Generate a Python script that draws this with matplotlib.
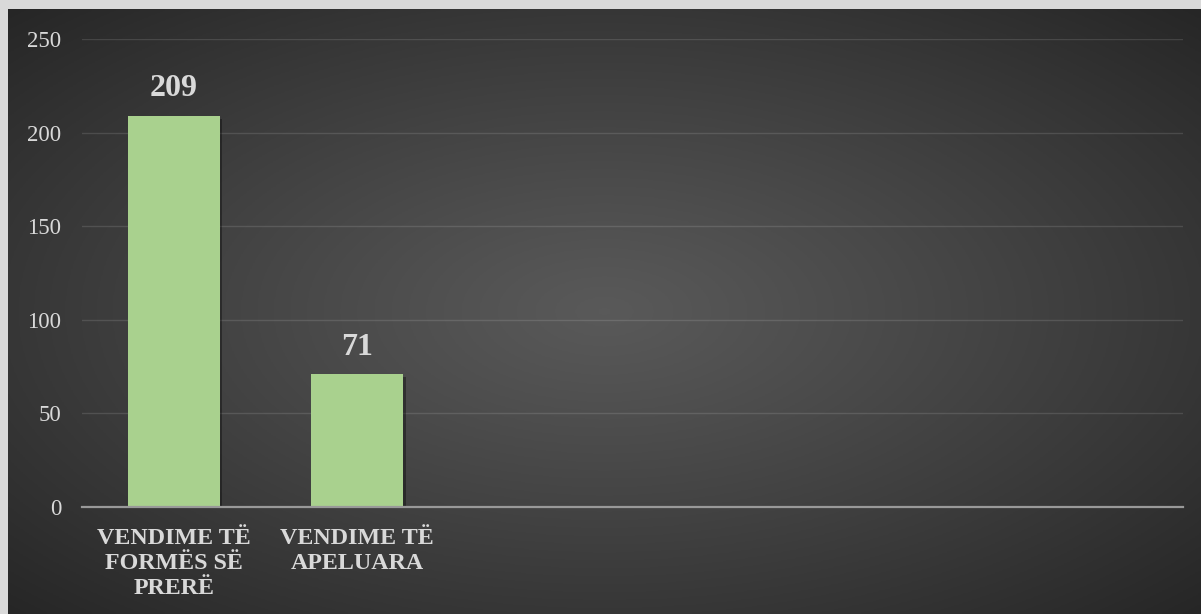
import matplotlib.pyplot as plt
import matplotlib.patheffects as pe
import numpy as np

# data
categories = ["VENDIME TË\nFORMËS SË\nPRERË", "VENDIME TË\nAPELUARA"]
values = [209, 71]
n_slots = 6          # the chart keeps room for six categories
y_ticks = [0, 50, 100, 150, 200, 250]

plt.rcParams['font.family'] = ['Liberation Serif', 'DejaVu Serif']

W, H = 1201, 614
fig = plt.figure(figsize=(W / 100, H / 100), dpi=100, facecolor='#D9D9D9')

# dark radial background panel
bg = fig.add_axes([8 / W, 0, (W - 8) / W, (H - 9) / H])
gx, gy = np.meshgrid(np.linspace(-1, 1, 400), np.linspace(-1, 1, 200))
r = np.clip(np.sqrt(gx ** 2 + gy ** 2) / np.sqrt(2), 0, 1)
shade = 0.35 - (0.35 - 0.15) * r ** 1.1
bg.imshow(np.dstack([shade, shade, shade]), aspect='auto', extent=[0, 1, 0, 1])
bg.axis('off')

ax = fig.add_axes([82 / W, 107 / H, (1183 - 82) / W, (507 - 39) / H])
ax.patch.set_alpha(0)

x = np.arange(len(values))
bars = ax.bar(x, values, width=0.5, color='#A9D18E', zorder=3)
for b in bars:
    b.set_path_effects([pe.SimplePatchShadow(offset=(2, -2), shadow_rgbFace='black', alpha=0.35),
                        pe.Normal()])

for xi, v in zip(x, values):
    ax.annotate(str(v), (xi, v), xytext=(0, 9), textcoords='offset points',
                ha='center', va='bottom', fontsize=23, fontweight='bold', color='#D9D9D9')

ax.set_xlim(-0.5, n_slots - 0.5)
ax.set_ylim(0, 250)
ax.set_yticks(y_ticks)
ax.set_xticks(x)
ax.set_xticklabels(categories, fontsize=17.3, fontweight='bold', color='#D9D9D9',
                   linespacing=1.27, va='top')
ax.tick_params(axis='x', length=0, pad=15)
ax.tick_params(axis='y', length=0, pad=15, labelsize=16.5, labelcolor='#D9D9D9')

ax.grid(axis='y', color='white', alpha=0.12, linewidth=1, zorder=0)
for s in ['top', 'right', 'left']:
    ax.spines[s].set_visible(False)
ax.spines['bottom'].set_color('#999999')
ax.spines['bottom'].set_linewidth(1.6)
ax.spines['bottom'].set_zorder(4)

fig.savefig('out.png', dpi=100, facecolor=fig.get_facecolor())
